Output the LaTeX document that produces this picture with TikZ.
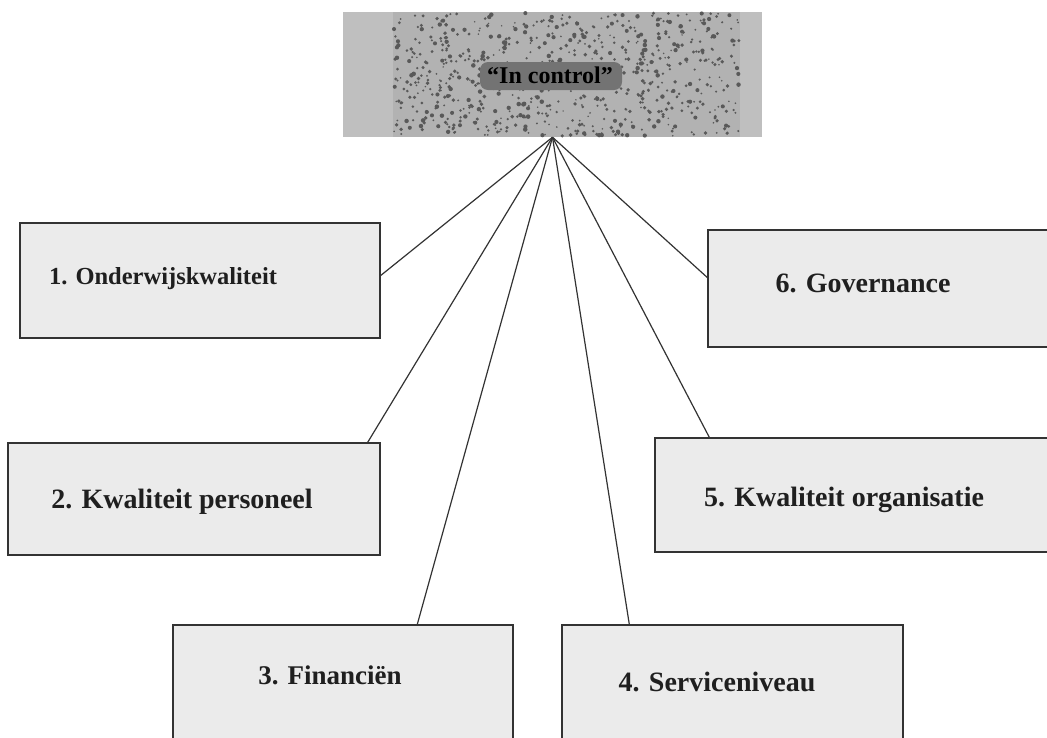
\documentclass[tikz,border=0pt]{standalone}
\usepackage{fontspec}
\setmainfont{Liberation Serif}
\begin{document}
\begin{tikzpicture}[x=1pt,y=-1pt,
  box/.style={draw=black!80, line width=1.4pt, fill=black!8, rectangle, inner sep=0pt},
  lbl/.style={font=\bfseries\fontsize{#1}{#1}\selectfont, text=black!88, inner sep=0pt},
  lbl/.default=27,
  link/.style={draw=black!80, line width=1.2pt}]
\clip (0,0) rectangle (1047,737);
\fill[white] (0,0) rectangle (1047,737);

% central box with mottled fill
\node[rectangle, fill=black!25, inner sep=0pt, minimum width=419pt, minimum height=125pt]
  (top) at (552.5,74.5) {};
\fill[black!30] (393,12) rectangle (740,137);
\pgfmathsetseed{7}
\foreach \i in {1,...,750}{
  \pgfmathsetmacro{\px}{394+345*rnd}
  \pgfmathsetmacro{\py}{13+123*rnd}
  \pgfmathsetmacro{\pr}{0.8+1.5*rnd}
  \fill[black!65] (\px,\py) circle[radius=\pr];
}
\fill[black!55, rounded corners=8pt] (480,62) rectangle (622,90);
\node[lbl=24, text=black] (t0) at (550,75) {“In control”};

% outer boxes
\node[box, minimum width=360pt, minimum height=115pt] (b1) at (200,280.5) {};
\node[box, minimum width=352pt, minimum height=117pt] (b6) at (884,288.5) {};
\node[box, minimum width=372pt, minimum height=112pt] (b2) at (194,499) {};
\node[box, minimum width=405pt, minimum height=114pt] (b5) at (857.5,495) {};
\node[box, minimum width=340pt, minimum height=135pt] (b3) at (343,692.5) {};
\node[box, minimum width=341pt, minimum height=135pt] (b4) at (732.5,692.5) {};

% labels
\node[lbl=24.5] (t1) at (163,279) {1. Onderwijskwaliteit};
\node[lbl=28] (t6) at (863,283) {6. Governance};
\node[lbl=28] (t2) at (182,502) {2. Kwaliteit personeel};
\node[lbl=28] (t5) at (844,500) {5. Kwaliteit organisatie};
\node[lbl=27] (t3) at (330,675) {3. Financiën};
\node[lbl=28] (t4) at (717,682) {4. Serviceniveau};

% connectors fanning out from the central box
\draw[link] (top.south) -- ([yshift=5pt]b1.east);
\draw[link] (top.south) -- ([yshift=11pt]b6.west);
\draw[link] (top.south) -- ([xshift=-13pt]b2.north east);
\draw[link] (top.south) -- ([xshift=55pt]b5.north west);
\draw[link] (top.south) -- ([xshift=245pt]b3.north west);
\draw[link] (top.south) -- ([xshift=68pt]b4.north west);
\end{tikzpicture}
\end{document}
